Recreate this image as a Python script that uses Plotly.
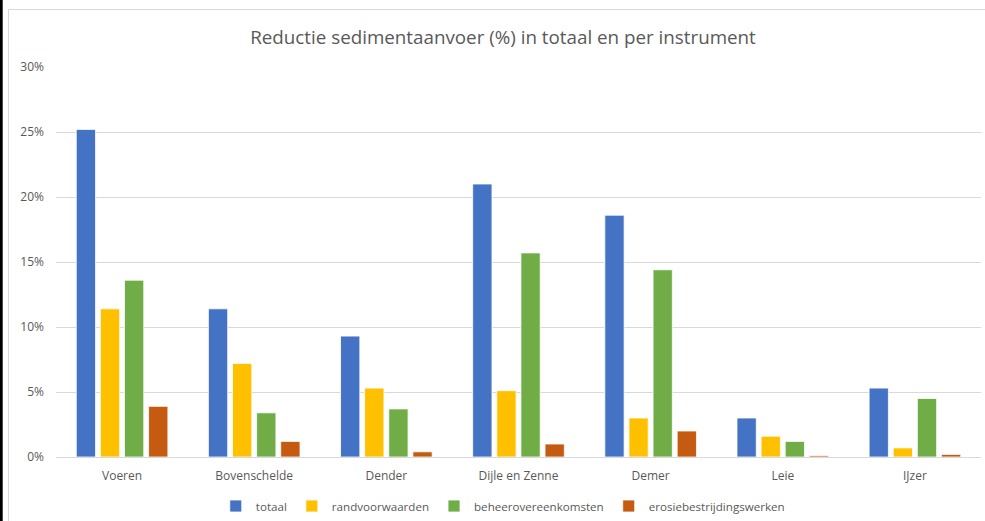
import plotly.graph_objects as go

# Catchments (x categories)
bekkens = ["Voeren", "Bovenschelde", "Dender", "Dijle en Zenne", "Demer", "Leie", "IJzer"]

# Reduction of sediment supply per instrument, as fraction (0.25 = 25%)
totaal = [0.252, 0.114, 0.093, 0.210, 0.186, 0.030, 0.053]
randvoorwaarden = [0.114, 0.072, 0.053, 0.051, 0.030, 0.016, 0.007]
beheerovereenkomsten = [0.136, 0.034, 0.037, 0.157, 0.144, 0.012, 0.045]
erosiebestrijdingswerken = [0.039, 0.012, 0.004, 0.010, 0.020, 0.001, 0.002]

series = [
    ("totaal", totaal, "#4472C4"),
    ("randvoorwaarden", randvoorwaarden, "#FFC000"),
    ("beheerovereenkomsten", beheerovereenkomsten, "#70AD47"),
    ("erosiebestrijdingswerken", erosiebestrijdingswerken, "#C55A11"),
]

W, H = 985, 521
L, R, T, B = 56, 4, 67, 64
PW, PH = W - L - R, H - T - B
TXT = "#595959"
FONT = "'Open Sans', 'Liberation Sans', Arial, sans-serif"

fig = go.Figure()
for name, vals, col in series:
    fig.add_trace(go.Bar(
        x=bekkens, y=vals, name=name,
        marker=dict(color=col, line=dict(color="white", width=0.8)),
    ))


def px_x(px):
    return (px - L) / PW


def px_y(py):
    return (H - B - py) / PH


fig.update_layout(
    width=W, height=H,
    margin=dict(l=L, r=R, t=T, b=B, autoexpand=False),
    paper_bgcolor="white", plot_bgcolor="white",
    barmode="group", bargap=0.27, bargroupgap=0.2,
    font=dict(family=FONT, color=TXT, size=12),
    title=dict(
        text="Reductie sedimentaanvoer (%) in totaal en per instrument",
        font=dict(size=18.8, color=TXT, family=FONT),
        x=503 / W, xref="container", xanchor="center",
        y=1 - 37 / H, yref="container", yanchor="middle",
    ),
    legend=dict(
        orientation="h", x=0.483, xanchor="center",
        y=px_y(506), yanchor="middle",
        font=dict(size=11.6, color=TXT),
        itemwidth=30, traceorder="normal",
    ),
    xaxis=dict(
        showgrid=False, showline=True, linecolor="#d9d9d9", linewidth=1,
        ticks="", tickfont=dict(size=12, color=TXT), ticklabelstandoff=8,
        fixedrange=True, automargin=False,
    ),
    yaxis=dict(
        range=[0, 0.30], dtick=0.05, tickformat=".0%",
        showgrid=True, gridcolor="#d9d9d9", gridwidth=1,
        zeroline=False, showline=False, ticks="",
        tickfont=dict(size=12, color=TXT), ticklabelstandoff=11,
        fixedrange=True, automargin=False,
    ),
    shapes=[
        # chart frame
        dict(type="rect", xref="paper", yref="paper",
             x0=px_x(8.5), x1=px_x(W + 10), y0=px_y(H + 10), y1=px_y(9.5),
             line=dict(color="#d9d9d9", width=1), fillcolor="rgba(0,0,0,0)",
             layer="below"),
        # dark strip along the left edge
        dict(type="rect", xref="paper", yref="paper",
             x0=px_x(-1), x1=px_x(2.7), y0=px_y(H + 1), y1=px_y(-1),
             line=dict(width=0), fillcolor="#000000", layer="above"),
    ],
)

fig.write_html("out.html")
